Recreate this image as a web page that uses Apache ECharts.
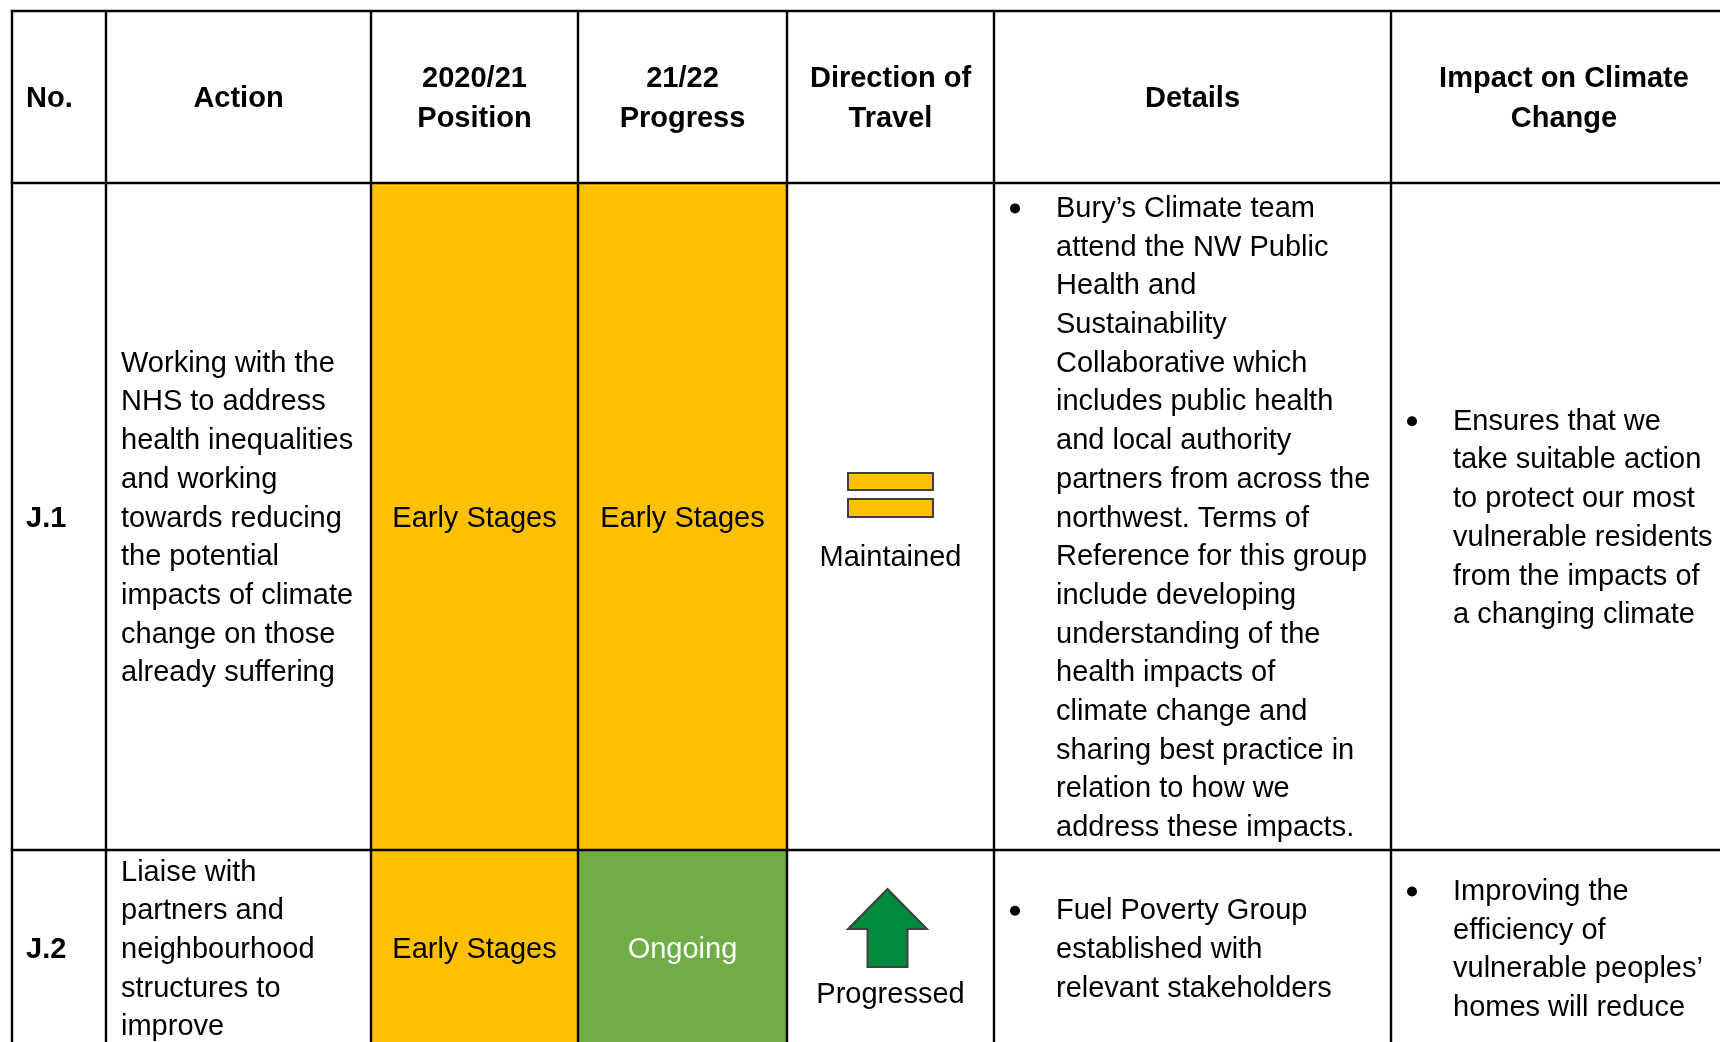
<!DOCTYPE html>
<html>
<head>
<meta charset="utf-8">
<script src="https://cdn.jsdelivr.net/npm/echarts@6/dist/echarts.min.js"></script>
<style>html,body{margin:0;padding:0;background:#fff;}#c{width:1720px;height:1042px;}</style>
</head>
<body>
<div id="c"></div>
<script>
// ---------- DATA ----------
const headers = [['No.'], ['Action'], ['2020/21', 'Position'], ['21/22', 'Progress'], ['Direction of', 'Travel'], ['Details'], ['Impact on Climate', 'Change']];
const ids = ['J.1', 'J.2'];
const actions = [
  ['Working with the', 'NHS to address', 'health inequalities', 'and working', 'towards reducing', 'the potential', 'impacts of climate', 'change on those', 'already suffering'],
  ['Liaise with', 'partners and', 'neighbourhood', 'structures to', 'improve']
];
const position2021 = ['Early Stages', 'Early Stages'];
const progress2122 = ['Early Stages', 'Ongoing'];
const direction = ['Maintained', 'Progressed'];
const details = [
  [['Bury\u2019s Climate team', 'attend the NW Public', 'Health and', 'Sustainability', 'Collaborative which', 'includes public health', 'and local authority', 'partners from across the', 'northwest. Terms of', 'Reference for this group', 'include developing', 'understanding of the', 'health impacts of', 'climate change and', 'sharing best practice in', 'relation to how we', 'address these impacts.']],
  [['Fuel Poverty Group', 'established with', 'relevant stakeholders']]
];
const impact = [
  [['Ensures that we', 'take suitable action', 'to protect our most', 'vulnerable residents', 'from the impacts of', 'a changing climate']],
  [['Improving the', 'efficiency of', 'vulnerable peoples\u2019', 'homes will reduce']]
];

// ---------- LAYOUT / STYLE ----------
const colEdges = [12, 106, 371, 578, 787, 994, 1391, 1737];
const rowEdges = [11, 183, 850, 1046];
const LH = 38.7;
const HLH = 39.2;
const DY = 2;          // text baseline nudge
const FONT = '"Liberation Sans", Arial, sans-serif';
const FS = 29;
const statusFill = { 'Early Stages': '#FFC000', 'Ongoing': '#70AD47' };
const statusText = { 'Early Stages': '#000000', 'Ongoing': '#FFFFFF' };

const cells = [];
for (let r = 0; r < rowEdges.length - 1; r++) {
  for (let c = 0; c < colEdges.length - 1; c++) cells.push([c, r]);
}

function txt(s, x, y, opt) {
  opt = opt || {};
  return {
    type: 'text',
    style: {
      text: s, x: x, y: y + DY,
      fontFamily: FONT, fontSize: FS, fontWeight: opt.bold ? 'bold' : 'normal',
      fill: opt.fill || '#000', align: opt.align || 'left', verticalAlign: 'middle'
    }
  };
}

function linesBlock(lines, x, cy, lh, opt) {
  const out = [];
  const n = lines.length;
  lines.forEach((l, i) => out.push(txt(l, x, cy + (i - (n - 1) / 2) * lh, opt)));
  return out;
}

function bulletBlock(items, left, cy) {
  const all = [];
  items.forEach(it => it.forEach((l, j) => all.push({ l: l, first: j === 0 })));
  const n = all.length;
  const out = [];
  all.forEach((o, i) => {
    const y = cy + (i - (n - 1) / 2) * LH;
    if (o.first) out.push({ type: 'circle', shape: { cx: left + 21, cy: y + DY - 0.5, r: 5 }, style: { fill: '#000' } });
    out.push(txt(o.l, left + 62, y));
  });
  return out;
}

function renderCell(params, api) {
  const c = api.value(0), r = api.value(1);
  const p0 = api.coord([colEdges[c], rowEdges[r]]);
  const p1 = api.coord([colEdges[c + 1], rowEdges[r + 1]]);
  const x0 = p0[0], y0 = p0[1], x1 = p1[0], y1 = p1[1];
  const cx = (x0 + x1) / 2, cy = (y0 + y1) / 2;
  const children = [];
  if (r === 0) {
    const hy = cy;
    if (c === 0) children.push(...linesBlock(headers[c], x0 + 14, hy, HLH, { bold: true }));
    else children.push(...linesBlock(headers[c], cx, hy, HLH, { bold: true, align: 'center' }));
    return { type: 'group', children: children };
  }
  const i = r - 1;
  if (c === 0) {
    children.push(txt(ids[i], x0 + 14, cy, { bold: true }));
  } else if (c === 1) {
    children.push(...linesBlock(actions[i], x0 + 15, cy, LH));
  } else if (c === 2 || c === 3) {
    const v = c === 2 ? position2021[i] : progress2122[i];
    children.push({ type: 'rect', shape: { x: x0, y: y0, width: x1 - x0, height: y1 - y0 }, style: { fill: statusFill[v] } });
    children.push(txt(v, cx, cy, { align: 'center', fill: statusText[v] }));
  } else if (c === 4) {
    const v = direction[i];
    if (v === 'Maintained') {
      children.push({ type: 'rect', shape: { x: cx - 42.5, y: cy - 43.5, width: 85, height: 17 }, style: { fill: '#FFC000', stroke: '#404040', lineWidth: 2 } });
      children.push({ type: 'rect', shape: { x: cx - 42.5, y: cy - 17.5, width: 85, height: 18 }, style: { fill: '#FFC000', stroke: '#404040', lineWidth: 2 } });
      children.push(txt(v, cx, cy + 39.5, { align: 'center' }));
    } else {
      const ax = cx - 3;
      children.push({
        type: 'polygon',
        shape: { points: [[ax, cy - 59], [ax + 39.5, cy - 19], [ax + 20, cy - 19], [ax + 20, cy + 19], [ax - 20, cy + 19], [ax - 20, cy - 19], [ax - 39.5, cy - 19]] },
        style: { fill: '#008A3E', stroke: '#404040', lineWidth: 2 }
      });
      children.push(txt(v, cx, cy + 45, { align: 'center' }));
    }
  } else if (c === 5) {
    children.push(...bulletBlock(details[i], x0, cy));
  } else if (c === 6) {
    children.push(...bulletBlock(impact[i], x0, cy));
  }
  return { type: 'group', children: children };
}

function renderBorders(params, api) {
  const children = [];
  const L = colEdges[0], R = colEdges[colEdges.length - 1];
  const T = rowEdges[0], B = rowEdges[rowEdges.length - 1];
  rowEdges.forEach(y => {
    const a = api.coord([L, y]), b = api.coord([R, y]);
    children.push({ type: 'line', shape: { x1: a[0] - 1.2, y1: a[1], x2: b[0], y2: b[1] }, style: { stroke: '#000', lineWidth: 2.4 } });
  });
  colEdges.forEach(x => {
    const a = api.coord([x, T]), b = api.coord([x, B]);
    children.push({ type: 'line', shape: { x1: a[0], y1: a[1], x2: b[0], y2: b[1] }, style: { stroke: '#000', lineWidth: 2.4 } });
  });
  return { type: 'group', children: children };
}

const chart = echarts.init(document.getElementById('c'), null, { renderer: 'canvas' });
chart.setOption({
  animation: false,
  backgroundColor: '#ffffff',
  grid: { left: 0, right: 0, top: 0, bottom: 0 },
  xAxis: { type: 'value', min: 0, max: 1720, show: false },
  yAxis: { type: 'value', min: 0, max: 1042, inverse: true, show: false },
  series: [
    { type: 'custom', coordinateSystem: 'cartesian2d', data: cells, renderItem: renderCell, z: 2, silent: true },
    { type: 'custom', coordinateSystem: 'cartesian2d', data: [[0, 0]], renderItem: renderBorders, z: 3, silent: true }
  ]
});
</script>
</body>
</html>
